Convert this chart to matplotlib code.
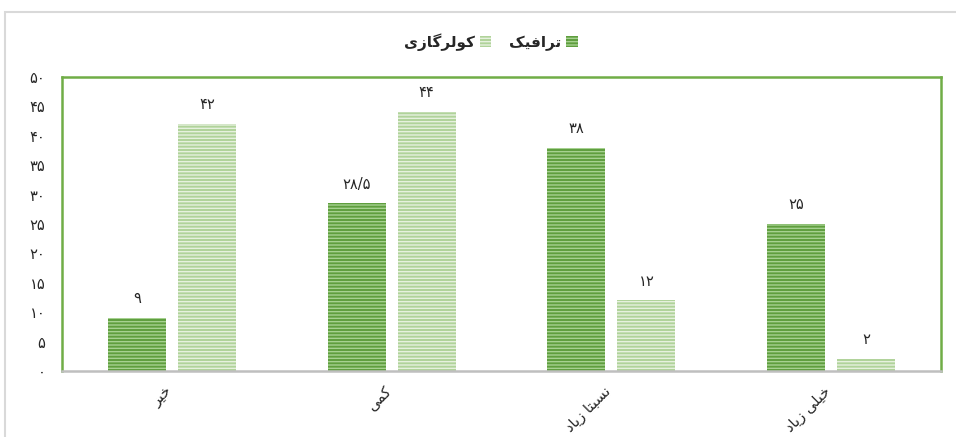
import matplotlib
matplotlib.use('Agg')
import matplotlib.pyplot as plt
import matplotlib.transforms as mtransforms
import numpy as np
from matplotlib.patches import Rectangle

# داده‌ها
categories = ['خیر', 'کمی', 'نسبتا زیاد', 'خیلی زیاد']
traffic = [9, 28.5, 38, 25]
cooler = [42, 44, 12, 2]
series_names = ['ترافیک', 'کولرگازی']
yticks = [0, 5, 10, 15, 20, 25, 30, 35, 40, 45, 50]

# فرم‌های نمایشی حروف: (تنها، پایانی، آغازی، میانی)
FORMS = {
    'ا': ('\uFE8D', '\uFE8E', None, None),
    'ب': ('\uFE8F', '\uFE90', '\uFE91', '\uFE92'),
    'ت': ('\uFE95', '\uFE96', '\uFE97', '\uFE98'),
    'خ': ('\uFEA5', '\uFEA6', '\uFEA7', '\uFEA8'),
    'د': ('\uFEA9', '\uFEAA', None, None),
    'ر': ('\uFEAD', '\uFEAE', None, None),
    'ز': ('\uFEAF', '\uFEB0', None, None),
    'س': ('\uFEB1', '\uFEB2', '\uFEB3', '\uFEB4'),
    'ف': ('\uFED1', '\uFED2', '\uFED3', '\uFED4'),
    'ل': ('\uFEDD', '\uFEDE', '\uFEDF', '\uFEE0'),
    'م': ('\uFEE1', '\uFEE2', '\uFEE3', '\uFEE4'),
    'ن': ('\uFEE5', '\uFEE6', '\uFEE7', '\uFEE8'),
    'و': ('\uFEED', '\uFEEE', None, None),
    'ک': ('\uFB8E', '\uFB8F', '\uFB90', '\uFB91'),
    'گ': ('\uFB92', '\uFB93', '\uFB94', '\uFB95'),
    'ی': ('\uFBFC', '\uFBFD', '\uFBFE', '\uFBFF'),
}


def fa(text):
    '''شکل‌دهی ساده متن فارسی و معکوس کردن برای نمایش'''
    out = []
    for i, c in enumerate(text):
        if c not in FORMS:
            out.append(c)
            continue
        prev = text[i - 1] if i > 0 else ''
        nxt = text[i + 1] if i + 1 < len(text) else ''
        join_prev = prev in FORMS and FORMS[prev][2] is not None
        join_next = FORMS[c][2] is not None and nxt in FORMS
        f = FORMS[c]
        if join_prev and join_next:
            out.append(f[3])
        elif join_prev:
            out.append(f[1])
        elif join_next:
            out.append(f[2])
        else:
            out.append(f[0])
    return ''.join(out)[::-1]


def fa_num(v):
    s = ('%g' % v).replace('.', '/')
    return s.translate(str.maketrans('0123456789', '۰۱۲۳۴۵۶۷۸۹'))


plt.rcParams['font.family'] = ['DejaVu Sans']
plt.rcParams['hatch.linewidth'] = 1.0

fig = plt.figure(figsize=(9.56, 4.37), dpi=100)
fig.patches.append(Rectangle((5 / 956, -0.05), 1.1, (437 - 12) / 437 + 0.05,
                             transform=fig.transFigure, fill=False,
                             edgecolor='#d9d9d9', linewidth=1.5))
ax = fig.add_axes([62 / 956, 66 / 437, 879 / 956, 294 / 437])

x = np.arange(len(categories))
width = 0.264
gap = 0.055
b1 = ax.bar(x - (width + gap) / 2, traffic, width, color='#5f9e3e',
            edgecolor='#a6d190', hatch='-----', linewidth=0, label=fa(series_names[0]))
b2 = ax.bar(x + (width + gap) / 2, cooler, width, color='#b0d39a',
            edgecolor='#e6f1de', hatch='-----', linewidth=0, label=fa(series_names[1]))

for bars, vals in ((b1, traffic), (b2, cooler)):
    for r, v in zip(bars, vals):
        ax.annotate(fa_num(v), (r.get_x() + r.get_width() / 2, r.get_height()),
                    xytext=(0, 8.5), textcoords='offset points',
                    ha='center', va='bottom', fontsize=10.5, color='#262626')

ax.set_xlim(-0.5, 3.5)
ax.set_ylim(0, 50)
ax.set_yticks(yticks)
ax.set_yticklabels([fa_num(t) for t in yticks], fontsize=10.5, color='#262626')
ax.set_xticks(x)
ax.set_xticklabels([fa(c) for c in categories], rotation=45, ha='right',
                   rotation_mode='anchor', fontsize=10.5, color='#262626')
ax.tick_params(axis='both', length=0)
ax.tick_params(axis='y', pad=12)
ax.tick_params(axis='x', pad=9)
shift = mtransforms.ScaledTranslation(-8 / 100, 0, fig.dpi_scale_trans)
for lbl in ax.get_xticklabels():
    lbl.set_transform(lbl.get_transform() + shift)

for s in ('top', 'left', 'right'):
    ax.spines[s].set_color('#70ad47')
    ax.spines[s].set_linewidth(1.8)
ax.spines['bottom'].set_color('#bfbfbf')
ax.spines['bottom'].set_linewidth(1.8)

handles = [b2, b1]
leg = fig.legend(handles, [fa(series_names[1]), fa(series_names[0])],
                 loc='center', bbox_to_anchor=(491 / 956, 1 - 42 / 437), ncol=2,
                 frameon=False, markerfirst=False, fontsize=11,
                 handlelength=0.75, handleheight=0.75, handletextpad=0.3,
                 columnspacing=1.2)
for t in leg.get_texts():
    t.set_fontweight('bold')
    t.set_color('#262626')

fig.savefig('out.png', dpi=100)
